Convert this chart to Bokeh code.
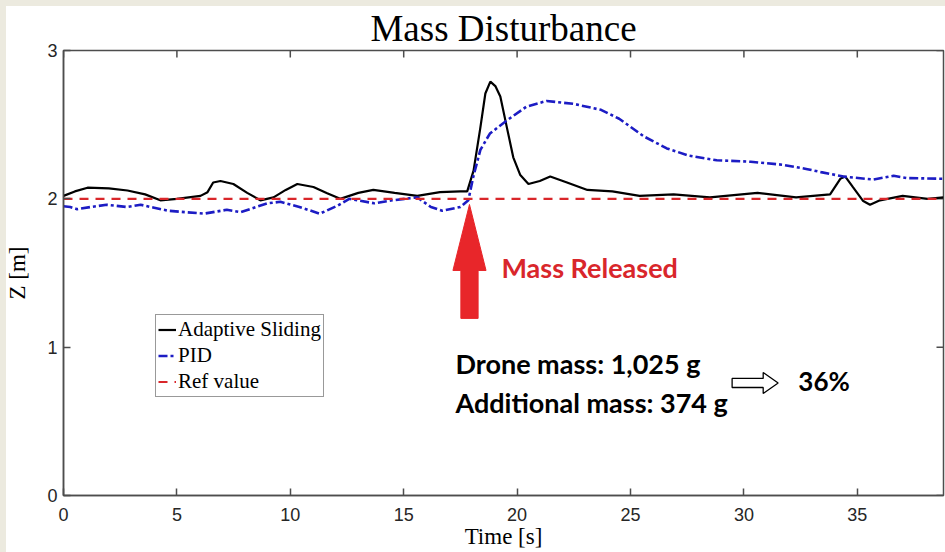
from bokeh.plotting import figure
from bokeh.models import Range1d, Legend, LegendItem, Label, FixedTicker
from bokeh.embed import file_html
from bokeh.resources import INLINE

# ---------------- data ----------------
AS_T = [0, 0.5, 1.06, 2.0, 2.82, 3.6, 4.27, 5.0, 6.04, 6.35, 6.6, 6.92, 7.49, 8.1, 8.68,
        9.26, 9.8, 10.31, 11.02, 11.6, 12.2, 13.0, 13.66, 14.6, 15.6, 16.6, 17.5, 17.8,
        18.08, 18.38, 18.6, 18.82, 19.04, 19.26, 19.55, 19.83, 20.14, 20.5, 21.0, 21.46,
        22.2, 23.1, 24.2, 25.4, 26.9, 28.5, 30.6, 32.3, 33.8, 34.25, 34.47, 34.8, 35.26,
        35.56, 36.0, 37.0, 38.1, 38.8]
AS_Z = [2.02, 2.05, 2.075, 2.07, 2.056, 2.03, 1.99, 2.0, 2.02, 2.045, 2.11, 2.12, 2.10,
        2.04, 1.99, 2.01, 2.06, 2.10, 2.08, 2.04, 2.0, 2.04, 2.06, 2.04, 2.02, 2.045, 2.05,
        2.05, 2.19, 2.48, 2.71, 2.79, 2.76, 2.69, 2.48, 2.28, 2.16, 2.10, 2.12, 2.15,
        2.11, 2.06, 2.05, 2.02, 2.03, 2.01, 2.04, 2.01, 2.03, 2.135, 2.15, 2.08, 1.985,
        1.96, 1.99, 2.02, 2.0, 2.01]

PID_T = [0, 0.3, 0.6, 1.2, 1.9, 2.8, 3.4, 4.0, 4.6, 5.4, 6.2, 7.2, 7.8, 8.4, 9.0, 9.56,
         10.4, 11.3, 12.1, 12.6, 13.7, 14.5, 15.6, 16.2, 16.7, 17.5, 17.85, 18.07, 18.38,
         18.8, 19.56, 20.4, 21.3, 22.5, 23.7, 24.5, 25.6, 26.6, 27.6, 28.8, 30.3, 31.7,
         32.8, 33.4, 34.4, 35.7, 36.6, 37.2, 38.8]
PID_Z = [1.95, 1.945, 1.93, 1.945, 1.96, 1.945, 1.96, 1.94, 1.92, 1.91, 1.90, 1.926, 1.91,
         1.94, 1.97, 1.98, 1.945, 1.90, 1.955, 2.0, 1.97, 1.99, 2.01, 1.945, 1.92, 1.945,
         1.99, 2.15, 2.33, 2.44, 2.53, 2.62, 2.66, 2.64, 2.60, 2.54, 2.42, 2.34, 2.29,
         2.26, 2.25, 2.23, 2.20, 2.18, 2.15, 2.13, 2.155, 2.14, 2.135]

REF_T = [0, 38.8]
REF_Z = [2, 2]

X_MAX = 38.8
Y_MAX = 3
X_TICKS = [0, 5, 10, 15, 20, 25, 30, 35]
Y_TICKS = [0, 1, 2, 3]

# annotation shapes (release arrow and ratio arrow)
RELEASE_ARROW_X = [17.9, 18.63, 18.28, 18.28, 17.52, 17.52, 17.17]
RELEASE_ARROW_Y = [1.962, 1.517, 1.517, 1.194, 1.194, 1.517, 1.517]
RATIO_ARROW_X = [29.48, 30.85, 30.85, 31.51, 30.85, 30.85, 29.48]
RATIO_ARROW_Y = [0.789, 0.789, 0.829, 0.758, 0.688, 0.728, 0.728]

FRAME = "#4d4d4d"
TICK_FONT = "Liberation Sans"
SERIF = "Liberation Serif"

p = figure(width=945, height=552, x_range=Range1d(0, X_MAX), y_range=Range1d(0, Y_MAX),
           output_backend="svg", toolbar_location=None,
           min_border_left=63, min_border_right=2, min_border_top=50, min_border_bottom=57)
p.background_fill_color = "white"
p.border_fill_color = "white"
p.outline_line_color = FRAME
p.outline_line_width = 1.5
p.xgrid.visible = False
p.ygrid.visible = False

p.title.text = "Mass Disturbance"
p.title.align = "center"
p.title.text_font = SERIF
p.title.text_font_size = "37px"
p.title.text_font_style = "normal"
p.title.text_color = "black"
p.title.standoff = 4

def style_axis(ax, ticks):
    ax.ticker = FixedTicker(ticks=ticks)
    ax.major_tick_in = 7
    ax.major_tick_out = 0
    ax.minor_tick_in = 0
    ax.minor_tick_out = 0
    ax.axis_line_color = FRAME
    ax.axis_line_width = 1.5
    ax.major_tick_line_color = FRAME
    ax.major_tick_line_width = 1.5
    ax.major_label_text_font = TICK_FONT
    ax.major_label_text_color = "#262626"
    ax.major_label_text_font_size = "18px"
    ax.axis_label_text_font = SERIF
    ax.axis_label_text_font_size = "23px"
    ax.axis_label_text_font_style = "normal"
    ax.axis_label_text_color = "black"

style_axis(p.xaxis[0], X_TICKS)
style_axis(p.yaxis[0], Y_TICKS)
p.xaxis.major_label_standoff = 12
p.yaxis.major_label_standoff = 6
p.xaxis.axis_label = "Time [s]"
p.yaxis.axis_label = "Z [m]"
p.xaxis.axis_label_standoff = 0
p.yaxis.axis_label_standoff = 14

# mirrored inward ticks on the top and right edges of the box
p.ray(x=X_TICKS, y=[Y_MAX] * len(X_TICKS), length=7, length_units="screen",
      angle=-90, angle_units="deg", line_color=FRAME, line_width=1.5)
p.ray(x=[X_MAX] * len(Y_TICKS), y=Y_TICKS, length=7, length_units="screen",
      angle=180, angle_units="deg", line_color=FRAME, line_width=1.5)

r_as = p.line(AS_T, AS_Z, line_color="black", line_width=2.2)
r_pid = p.line(PID_T, PID_Z, line_color="#1c1cc4", line_width=2.6, line_dash="9 3 3 3")
r_ref = p.line(REF_T, REF_Z, line_color="#d9262a", line_width=2.2, line_dash="9 7")

legend = Legend(items=[LegendItem(label="Adaptive Sliding", renderers=[r_as]),
                       LegendItem(label="PID", renderers=[r_pid]),
                       LegendItem(label="Ref value", renderers=[r_ref])],
                location=(92, 98))
legend.label_text_font = SERIF
legend.label_text_font_size = "21px"
legend.label_text_color = "black"
legend.glyph_width = 18
legend.glyph_height = 21
legend.label_standoff = 2
legend.label_height = 21
legend.spacing = 1
legend.padding = 2
legend.margin = 0
legend.border_line_color = "#333333"
legend.border_line_width = 1.3
legend.background_fill_alpha = 1
p.add_layout(legend)

# release arrow
p.patch(RELEASE_ARROW_X, RELEASE_ARROW_Y, fill_color="#e8262a", line_color="#e8262a", line_width=1)
p.add_layout(Label(x=19.31, y=1.537, text="Mass Released", text_font="Lato",
                   text_font_style="bold", text_font_size="27px", text_color="#d9262b",
                   text_baseline="middle", text_align="left"))

p.add_layout(Label(x=17.28, y=0.89, text="Drone mass: 1,025 g", text_font="Lato",
                   text_font_style="bold", text_font_size="27px", text_color="black",
                   text_baseline="middle", text_align="left"))
p.add_layout(Label(x=17.28, y=0.627, text="Additional mass: 374 g", text_font="Lato",
                   text_font_style="bold", text_font_size="27px", text_color="black",
                   text_baseline="middle", text_align="left"))
p.patch(RATIO_ARROW_X, RATIO_ARROW_Y, fill_color="white", line_color="black", line_width=1.3)
p.add_layout(Label(x=32.4, y=0.775, text="36%", text_font="Lato",
                   text_font_style="bold", text_font_size="26px", text_color="black",
                   text_baseline="middle", text_align="left"))

html = file_html(p, INLINE, title="Mass Disturbance")
css = ("<style>html,body{margin:0;padding:0;background:white;}"
       "body::before{content:'';position:fixed;left:0;top:0;width:6px;height:100%;"
       "background:#ECEADF;z-index:100;}"
       "body::after{content:'';position:fixed;left:0;top:0;width:100%;height:6px;"
       "background:#ECEADF;z-index:100;}</style></head>")
html = html.replace("</head>", css, 1)
open("out.html", "w").write(html)
